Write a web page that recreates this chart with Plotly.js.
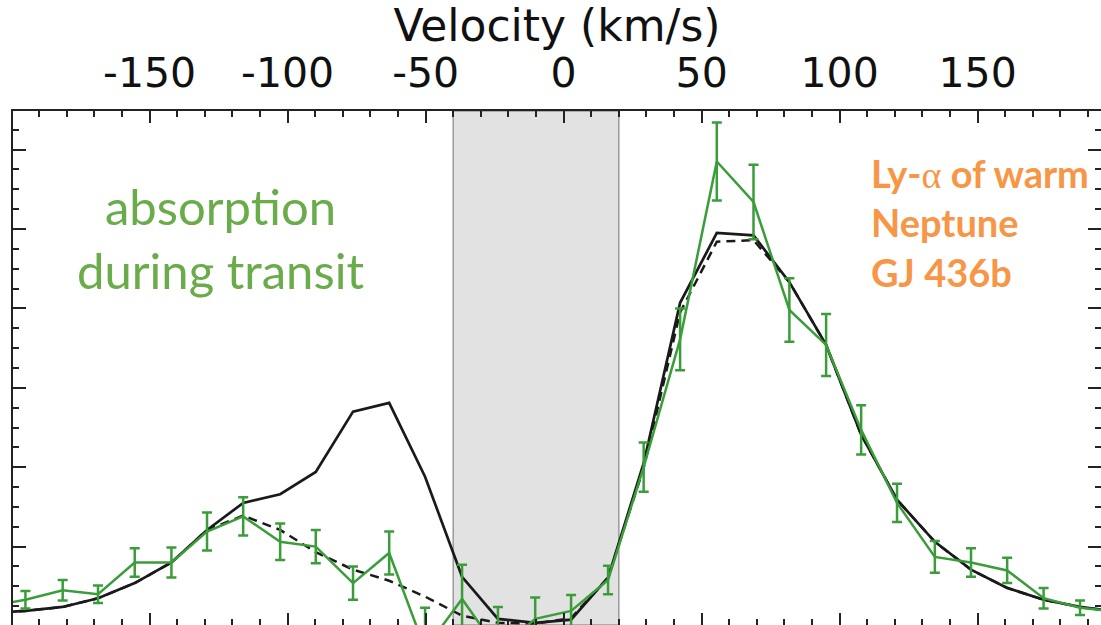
<!DOCTYPE html>
<html>
<head>
<meta charset="utf-8">
<script src="https://cdn.plot.ly/plotly-3.0.1.min.js"></script>
<style>
  html, body { margin: 0; padding: 0; background: #ffffff; overflow: hidden; }
  #chart { width: 1101px; height: 625px; }
</style>
</head>
<body>
<div id="chart"></div>
<script>
// Velocity grid (km/s)
const velocity = [-208.2, -195.0, -181.5, -168.7, -155.4, -142.1, -129.2, -116.1, -102.7, -89.8,
                  -76.3, -63.2, -50.2, -36.8, -23.8, -10.3, 2.7, 16.1, 29.0, 42.2,
                  55.5, 68.8, 81.8, 95.1, 107.8, 120.8, 134.5, 147.6, 160.7, 173.9,
                  187.1, 200.3];
// Observed in-transit Ly-alpha flux (green) and its 1-sigma errors
const observed = [0.25, 0.33, 0.45, 0.40, 0.80, 0.80, 1.19, 1.38, 1.06, 1.00,
                  0.54, 0.92, -0.29, 0.34, -0.30, 0.09, 0.19, 0.58, 2.00, 3.61,
                  5.85, 5.34, 3.98, 3.54, 2.47, 1.55, 0.87, 0.80, 0.70, 0.35,
                  0.23, 0.18];
const observedErr = [0.11, 0.11, 0.13, 0.11, 0.18, 0.19, 0.24, 0.24, 0.23, 0.21,
                     0.21, 0.27, 0.52, 0.43, 0.54, 0.27, 0.20, 0.18, 0.31, 0.39,
                     0.49, 0.47, 0.40, 0.39, 0.31, 0.24, 0.20, 0.18, 0.16, 0.13,
                     0.09, 0.08];
// Out-of-transit reference profile (solid black)
const outOfTransit = [0.16, 0.19, 0.24, 0.35, 0.54, 0.80, 1.21, 1.55, 1.66, 1.94,
                      2.70, 2.81, 1.88, 0.62, 0.09, 0.04, 0.08, 0.61, 2.05, 4.07,
                      4.95, 4.92, 4.33, 3.54, 2.41, 1.59, 1.06, 0.71, 0.48, 0.33,
                      0.24, 0.18];
// Model with planetary absorption (dashed black)
const modelAbsorbed = [0.16, 0.19, 0.24, 0.35, 0.54, 0.80, 1.21, 1.39, 1.21, 0.93,
                       0.71, 0.57, 0.37, 0.13, 0.04, 0.03, 0.10, 0.61, 1.99, 3.95,
                       4.84, 4.86, 4.33, 3.54, 2.41, 1.59, 1.06, 0.71, 0.48, 0.33,
                       0.24, 0.18];
// Axis ticks
const xTickVals = [-150, -100, -50, 0, 50, 100, 150];
const xTickText = ['-150', '-100', '-50', '0', '50', '100', '150'];
// Geocoronal contamination band (km/s)
const maskedBand = [-40, 20];

const traces = [
  {
    x: velocity, y: outOfTransit, type: 'scatter', mode: 'lines',
    line: {color: '#1a1a1a', width: 2.7}, hoverinfo: 'skip', showlegend: false
  },
  {
    x: velocity, y: modelAbsorbed, type: 'scatter', mode: 'lines',
    line: {color: '#1a1a1a', width: 2.5, dash: '9px,6px'}, hoverinfo: 'skip', showlegend: false
  },
  {
    x: velocity, y: observed, type: 'scatter', mode: 'lines',
    line: {color: '#3a9d3a', width: 2.5},
    error_y: {type: 'data', array: observedErr, visible: true, color: '#3a9d3a', thickness: 2.5, width: 5},
    hoverinfo: 'skip', showlegend: false
  }
];

const layout = {
  width: 1101, height: 625,
  margin: {l: 13, r: 0, t: 111, b: 0, pad: 0},
  paper_bgcolor: '#ffffff', plot_bgcolor: '#ffffff',
  font: {family: 'DejaVu Sans', color: '#111111'},
  showlegend: false,
  xaxis: {
    side: 'top', range: [-199.5, 194.7],
    tickmode: 'array', tickvals: xTickVals, ticktext: xTickText,
    ticks: 'inside', ticklen: 12, tickwidth: 2, tickcolor: '#222',
    minor: {dtick: 10, tick0: 0, ticks: 'inside', ticklen: 6, tickwidth: 2, tickcolor: '#222', showgrid: false},
    showgrid: false, zeroline: false,
    showline: true, linecolor: '#222', linewidth: 2, mirror: 'ticks',
    tickfont: {family: 'DejaVu Sans', size: 41, color: '#111'},
    ticklabelstandoff: 6,
    title: {text: 'Velocity (km/s)', font: {family: 'DejaVu Sans', size: 44, color: '#111'}, standoff: 3}
  },
  yaxis: {
    range: [0.0126, 6.486], tick0: 0, dtick: 1,
    ticks: 'inside', ticklen: 13, tickwidth: 2, tickcolor: '#222',
    minor: {dtick: 0.25, tick0: 0, ticks: 'inside', ticklen: 6, tickwidth: 2, tickcolor: '#222', showgrid: false},
    showticklabels: false, showgrid: false, zeroline: false,
    showline: true, linecolor: '#222', linewidth: 2, mirror: 'ticks'
  },
  shapes: [{
    type: 'rect', xref: 'x', yref: 'paper', x0: maskedBand[0], x1: maskedBand[1], y0: 0, y1: 1,
    fillcolor: '#e2e2e2', line: {color: '#9a9a9a', width: 1.5}, layer: 'below'
  }],
  annotations: [
    {xref: 'paper', yref: 'paper', x: 0.191, y: 0.752, xanchor: 'center', yanchor: 'middle',
     text: 'absorption<br>during transit', showarrow: false, align: 'center',
     font: {family: 'Lato', size: 49, color: '#6aab4a'}},
    {xref: 'paper', yref: 'paper', x: 0.787, y: 0.784, xanchor: 'left', yanchor: 'middle',
     text: 'Ly-<span style="font-family:Liberation Serif;font-weight:normal">α</span> of warm<br>Neptune<br>GJ 436b',
     showarrow: false, align: 'left',
     font: {family: 'Lato', size: 38, color: '#f79646', weight: 'bold'}}
  ]
};

Plotly.newPlot('chart', traces, layout, {displayModeBar: false, staticPlot: true});
</script>
</body>
</html>
